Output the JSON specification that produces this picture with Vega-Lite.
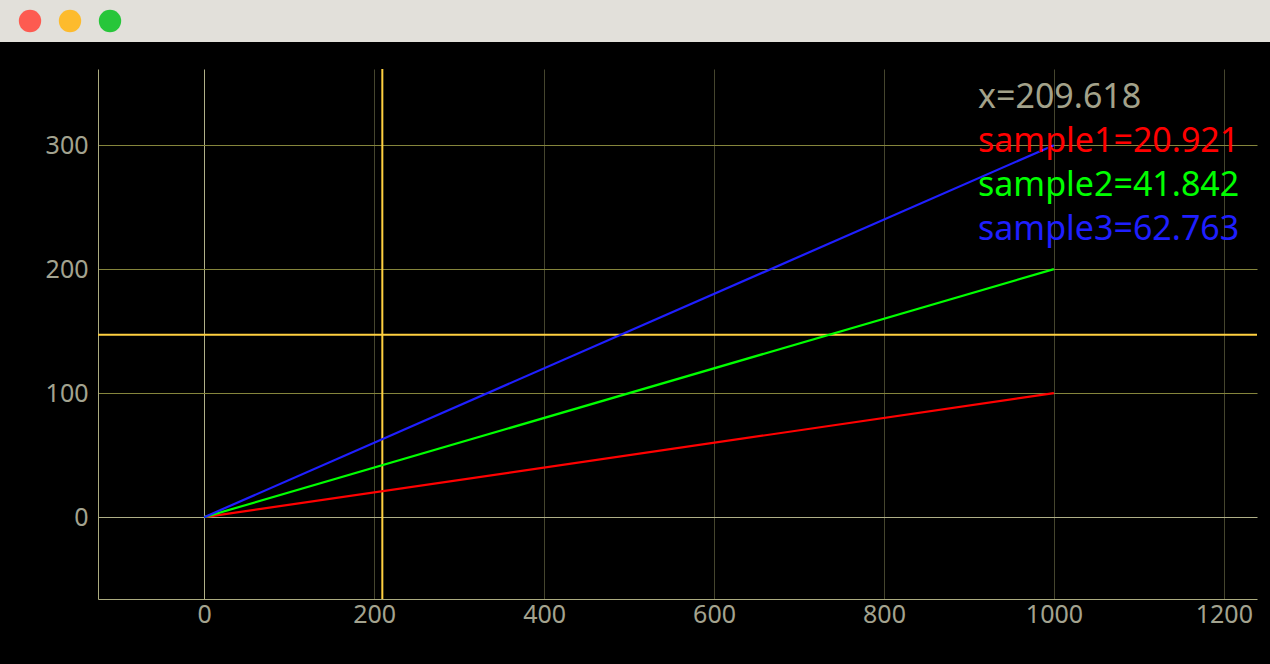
{
  "$schema": "https://vega.github.io/schema/vega-lite/v6.json",
  "background": "#000000",
  "padding": 0,
  "spacing": 26,
  "resolve": {"legend": {"color": "independent", "fill": "independent"}},
  "config": {"view": {"stroke": null}, "font": "Noto Sans"},
  "vconcat": [
    {
      "width": 1270,
      "height": 42,
      "view": {"fill": "#e2e0da", "stroke": null},
      "data": {"values": [
        {"button": "close", "slot": 1},
        {"button": "minimize", "slot": 2},
        {"button": "zoom", "slot": 3}
      ]},
      "mark": {"type": "point", "filled": true, "size": 500, "opacity": 1},
      "encoding": {
        "x": {"field": "slot", "type": "quantitative", "scale": {"domain": [0.25, 32], "nice": false, "zero": false}, "axis": null},
        "fill": {"field": "button", "type": "nominal", "scale": {"domain": ["close", "minimize", "zoom"], "range": ["#fd5b51", "#fdbb2d", "#27c63a"]}, "legend": null}
      }
    },
    {
      "width": 1270,
      "height": 530,
      "layer": [
        {
          "data": {"values": [{"cursor_x": 209.618, "cursor_y": 147}]},
          "mark": {"type": "rule", "color": "#ffd040", "strokeWidth": 2},
          "encoding": {"x": {"field": "cursor_x", "type": "quantitative", "title": null}}
        },
        {
          "data": {"values": [{"cursor_x": 209.618, "cursor_y": 147}]},
          "mark": {"type": "rule", "color": "#ffd040", "strokeWidth": 2},
          "encoding": {
            "y": {"field": "cursor_y", "type": "quantitative", "title": null},
            "x": {"datum": -125, "type": "quantitative"},
            "x2": {"datum": 1239}
          }
        },
        {
          "data": {"values": [
            {"series": "sample1", "x": 0, "y": 0},
            {"series": "sample1", "x": 1000, "y": 100},
            {"series": "sample2", "x": 0, "y": 0},
            {"series": "sample2", "x": 1000, "y": 200},
            {"series": "sample3", "x": 0, "y": 0},
            {"series": "sample3", "x": 1000, "y": 300}
          ]},
          "mark": {"type": "line", "strokeWidth": 2.2},
          "encoding": {
            "x": {
              "field": "x", "type": "quantitative", "title": null,
              "scale": {"domain": [-125, 1239], "range": [98, 1257], "nice": false, "zero": false},
              "axis": {
                "values": [0, 200, 400, 600, 800, 1000, 1200], "format": "d",
                "title": null, "ticks": false, "labelFontSize": 25, "labelColor": "#a3a38f",
                "labelPadding": 3, "labelFlush": false, "labelOverlap": false,
                "domainColor": "#acac80", "domainWidth": 1, "minExtent": 66,
                "gridColor": {"condition": {"test": "datum.value === 0", "value": "#b0b088"}, "value": "#45452e"}
              }
            },
            "y": {
              "field": "y", "type": "quantitative", "title": null,
              "scale": {"domain": [-66, 361.4], "nice": false, "zero": false},
              "axis": {
                "values": [0, 100, 200, 300], "format": "d", "offset": -98,
                "title": null, "ticks": false, "labelFontSize": 25, "labelColor": "#a3a38f",
                "labelPadding": 10, "labelFlush": false, "labelOverlap": false,
                "domainColor": "#acac80", "domainWidth": 1,
                "gridColor": {"condition": {"test": "datum.value === 0", "value": "#b0b088"}, "value": "#85853c"}
              }
            },
            "color": {
              "field": "series", "type": "nominal",
              "scale": {"domain": ["x", "sample1", "sample2", "sample3"], "range": ["#a3a28a", "#ff0000", "#00ff00", "#1f1fff"]},
              "legend": {
                "title": null, "orient": "none", "legendX": 944, "legendY": 12,
                "symbolSize": 0, "symbolOpacity": 0, "symbolStrokeWidth": 0, "labelOffset": 0,
                "labelFontSize": 34, "labelLimit": 800, "rowPadding": 10, "padding": 0,
                "labelExpr": "datum.label === 'x' ? 'x=209.618' : datum.label === 'sample1' ? 'sample1=20.921' : datum.label === 'sample2' ? 'sample2=41.842' : 'sample3=62.763'",
                "encode": {"labels": {"update": {"fill": {"signal": "datum.value === 'x' ? '#a3a28a' : datum.value === 'sample1' ? '#ff0000' : datum.value === 'sample2' ? '#00ff00' : '#1f1fff'"}}}}
              }
            }
          }
        }
      ]
    }
  ]
}
